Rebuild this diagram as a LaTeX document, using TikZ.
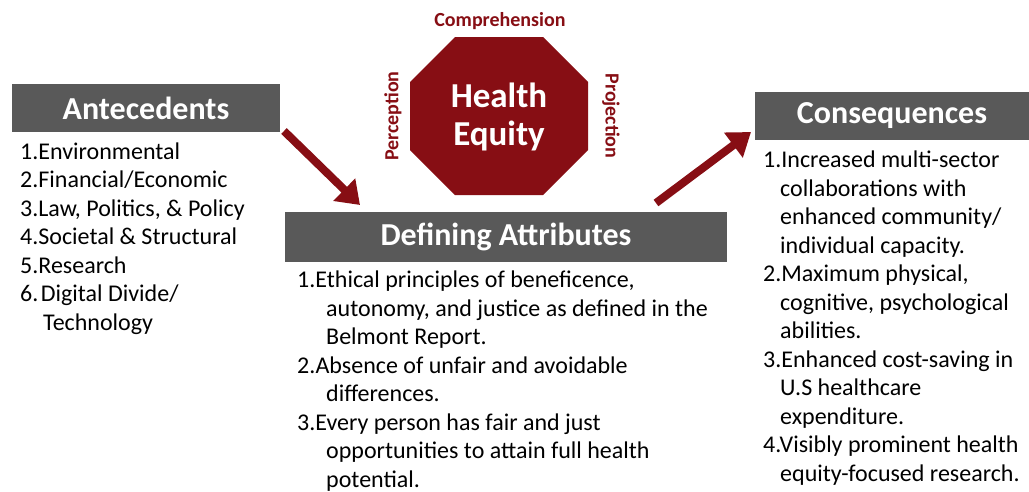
\documentclass[tikz,border=0pt]{standalone}
\usepackage{fontspec}
\setmainfont{Carlito}
\usetikzlibrary{arrows.meta}
\definecolor{hered}{RGB}{135,14,20}
\definecolor{boxgray}{RGB}{89,89,89}
\begin{document}
\begin{tikzpicture}[x=1pt,y=-1pt,
  headbox/.style={fill=boxgray, text=white, font=\fontsize{32}{36}\selectfont\bfseries, inner sep=0pt},
  listtext/.style={font=\fontsize{24}{28.5}\selectfont, align=left, inner sep=0pt, anchor=base west},
  bigarrow/.style={draw=hered, line width=8pt, -{Triangle[width=30pt,length=22pt]}},
  sidelabel/.style={text=hered, font=\fontsize{20}{24}\selectfont\bfseries, inner sep=0pt},
  octtext/.style={text=white, font=\fontsize{35}{38}\selectfont\bfseries, align=center, inner sep=0pt}]
\useasboundingbox (0,0) rectangle (1029,491);
\fill[white] (0,0) rectangle (1029,491);

% header boxes
\node[headbox, minimum width=268pt, minimum height=48pt] (ante) at (146,108) {Antecedents};
\node[headbox, minimum width=442pt, minimum height=50pt] (def) at (506,237) {Defining Attributes};
\node[headbox, minimum width=274pt, minimum height=48pt] (cons) at (892,116) {Consequences};

% octagon
\fill[hered] (455,37) -- (543,37) -- (588,82) -- (588,150) -- (543,195) -- (455,195) -- (410,150) -- (410,82) -- cycle;
\node[octtext] (he) at (499,117) {Health\\Equity};
\node[sidelabel] (comp) at (500,21) {Comprehension};
\node[sidelabel, rotate=90] (perc) at (393,116) {Perception};
\node[sidelabel, rotate=-90] (proj) at (611,116) {Projection};

% arrows
\coordinate (a1s) at (284,131);
\coordinate (a1e) at (360,205);
\coordinate (a2s) at (656,203);
\coordinate (a2e) at (751,132);
\draw[bigarrow] (a1s) -- (a1e);
\draw[bigarrow] (a2s) -- (a2e);

% lists (anchor = baseline of last line)
\node[listtext] (antelist) at (20,330) {1.Environmental\\2.Financial/Economic\\3.Law, Politics, \& Policy\\4.Societal \& Structural\\5.Research\\6.\hspace{2.5pt}Digital Divide/\\\hspace*{23pt}Technology};

\node[listtext] (deflist) at (297,487) {1.Ethical principles of beneficence,\\\hspace*{29pt}autonomy, and justice as defined in the\\\hspace*{29pt}Belmont Report.\\2.Absence of unfair and avoidable\\\hspace*{29pt}differences.\\3.Every person has fair and just\\\hspace*{29pt}opportunities to attain full health\\\hspace*{29pt}potential.};

\node[listtext] (conslist) at (763,481) {1.Increased multi-sector\\\hspace*{17pt}collaborations with\\\hspace*{17pt}enhanced community/\\\hspace*{17pt}individual capacity.\\2.Maximum physical,\\\hspace*{17pt}cognitive, psychological\\\hspace*{17pt}abilities.\\3.Enhanced cost-saving in\\\hspace*{17pt}U.S healthcare\\\hspace*{17pt}expenditure.\\4.Visibly prominent health\\\hspace*{17pt}equity-focused research.};
\end{tikzpicture}
\end{document}
